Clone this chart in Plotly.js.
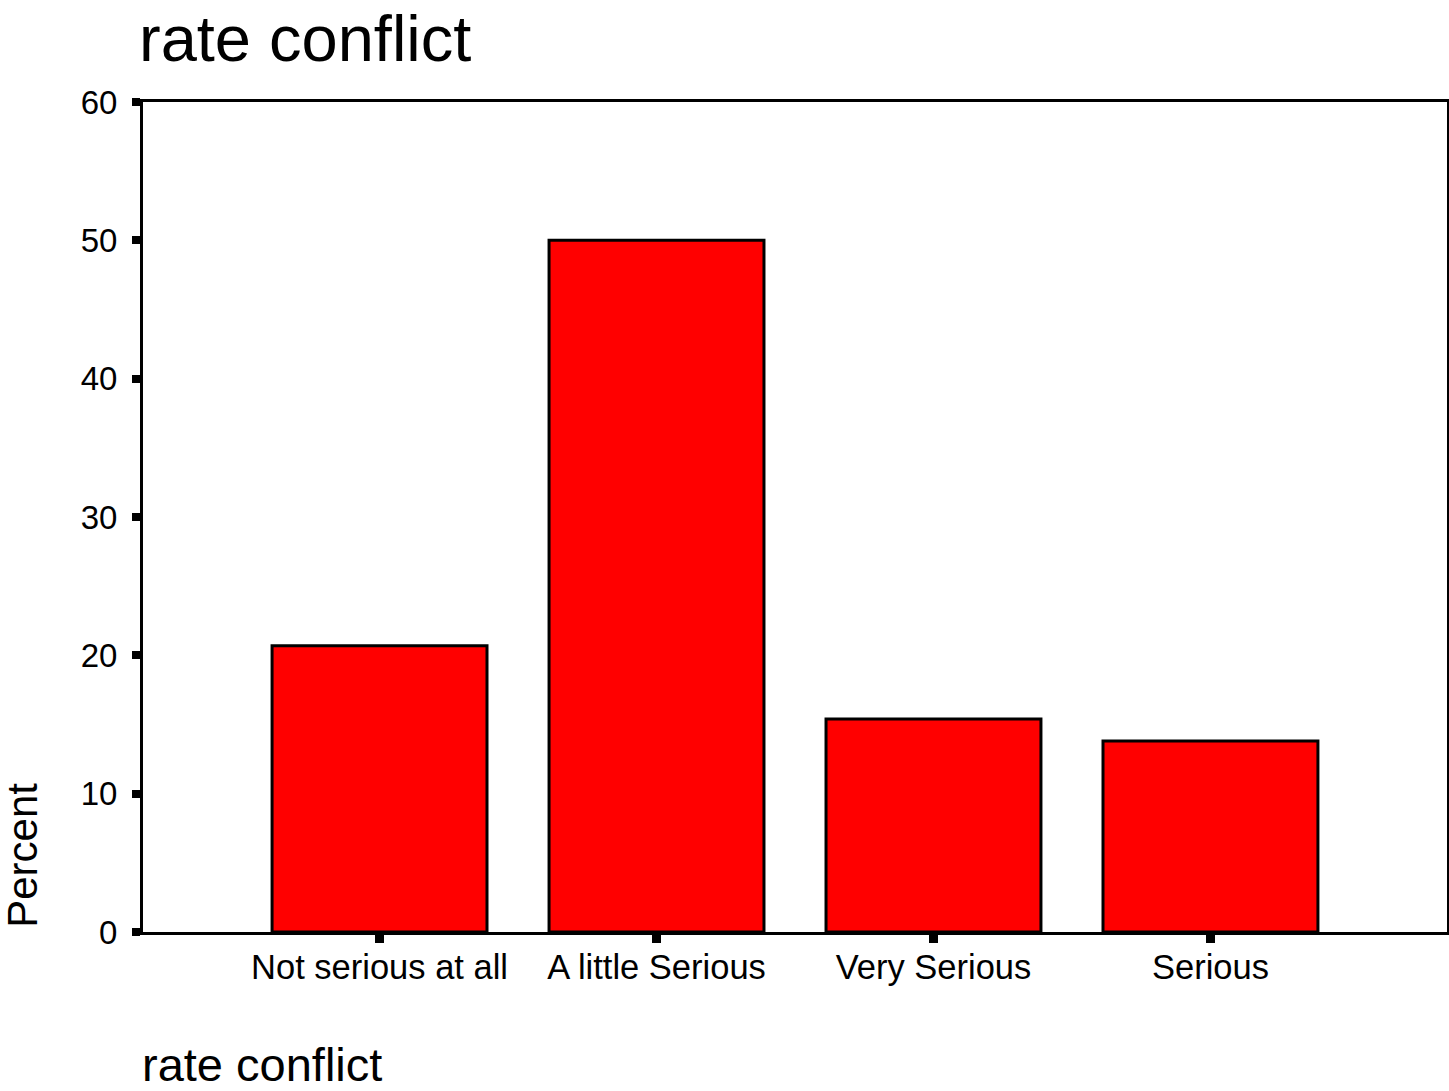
<!DOCTYPE html>
<html>
<head>
<meta charset="utf-8">
<script src="https://cdn.plot.ly/plotly-3.0.1.min.js"></script>
<style>
html,body{margin:0;padding:0;background:#fff;}
#chart{width:1449px;height:1091px;}
</style>
</head>
<body>
<div id="chart"></div>
<script>
const categories = ["Not serious at all", "A little Serious", "Very Serious", "Serious"];
const percents = [20.7, 50.0, 15.4, 13.8];
const yTicks = [0, 10, 20, 30, 40, 50, 60];
const chartTitle = "rate conflict";
const xTitle = "rate conflict";
const yTitle = "Percent";

const FONT = "Liberation Sans, Arial, sans-serif";

const trace = {
  type: "bar",
  x: categories,
  y: percents,
  width: 0.776,
  marker: { color: "#FF0000", line: { color: "#000000", width: 3 } },
  hoverinfo: "x+y"
};

const layout = {
  width: 1449,
  height: 1091,
  paper_bgcolor: "#ffffff",
  plot_bgcolor: "#ffffff",
  margin: { l: 143, r: 2, t: 102, b: 159, pad: 0 },
  showlegend: false,
  font: { family: FONT, color: "#000000", size: 33 },
  title: {
    text: chartTitle,
    font: { family: FONT, size: 65, color: "#000" },
    x: 139 / 1449, xanchor: "left", xref: "container",
    y: 1 - 38 / 1091, yanchor: "middle", yref: "container"
  },
  xaxis: {
    type: "category",
    range: [-0.854, 3.854],
    showline: true, linecolor: "#000", linewidth: 3, mirror: true,
    ticks: "outside", ticklen: 8, tickwidth: 9, tickcolor: "#000",
    tickfont: { family: FONT, size: 34.5, color: "#000" },
    ticklabelstandoff: -5,
    showgrid: false, zeroline: false, fixedrange: true
  },
  yaxis: {
    range: [0, 60],
    tickvals: yTicks,
    showline: true, linecolor: "#000", linewidth: 3, mirror: true,
    ticks: "outside", ticklen: 8, tickwidth: 8, tickcolor: "#000",
    tickfont: { family: FONT, size: 33, color: "#000" },
    ticklabelstandoff: 8,
    showgrid: false, zeroline: false, fixedrange: true
  },
  annotations: [
    {
      text: xTitle, xref: "paper", yref: "paper",
      x: -3 / 1304, y: -(1064 - 932) / 830, xanchor: "left", yanchor: "middle",
      showarrow: false, font: { family: FONT, size: 47, color: "#000" }
    },
    {
      text: yTitle, xref: "paper", yref: "paper",
      x: -(143 - 23) / 1304, y: 0.002, xanchor: "center", yanchor: "bottom",
      textangle: -90,
      showarrow: false, font: { family: FONT, size: 42, color: "#000" }
    }
  ]
};

Plotly.newPlot("chart", [trace], layout, { displayModeBar: false, staticPlot: true });
</script>
</body>
</html>
